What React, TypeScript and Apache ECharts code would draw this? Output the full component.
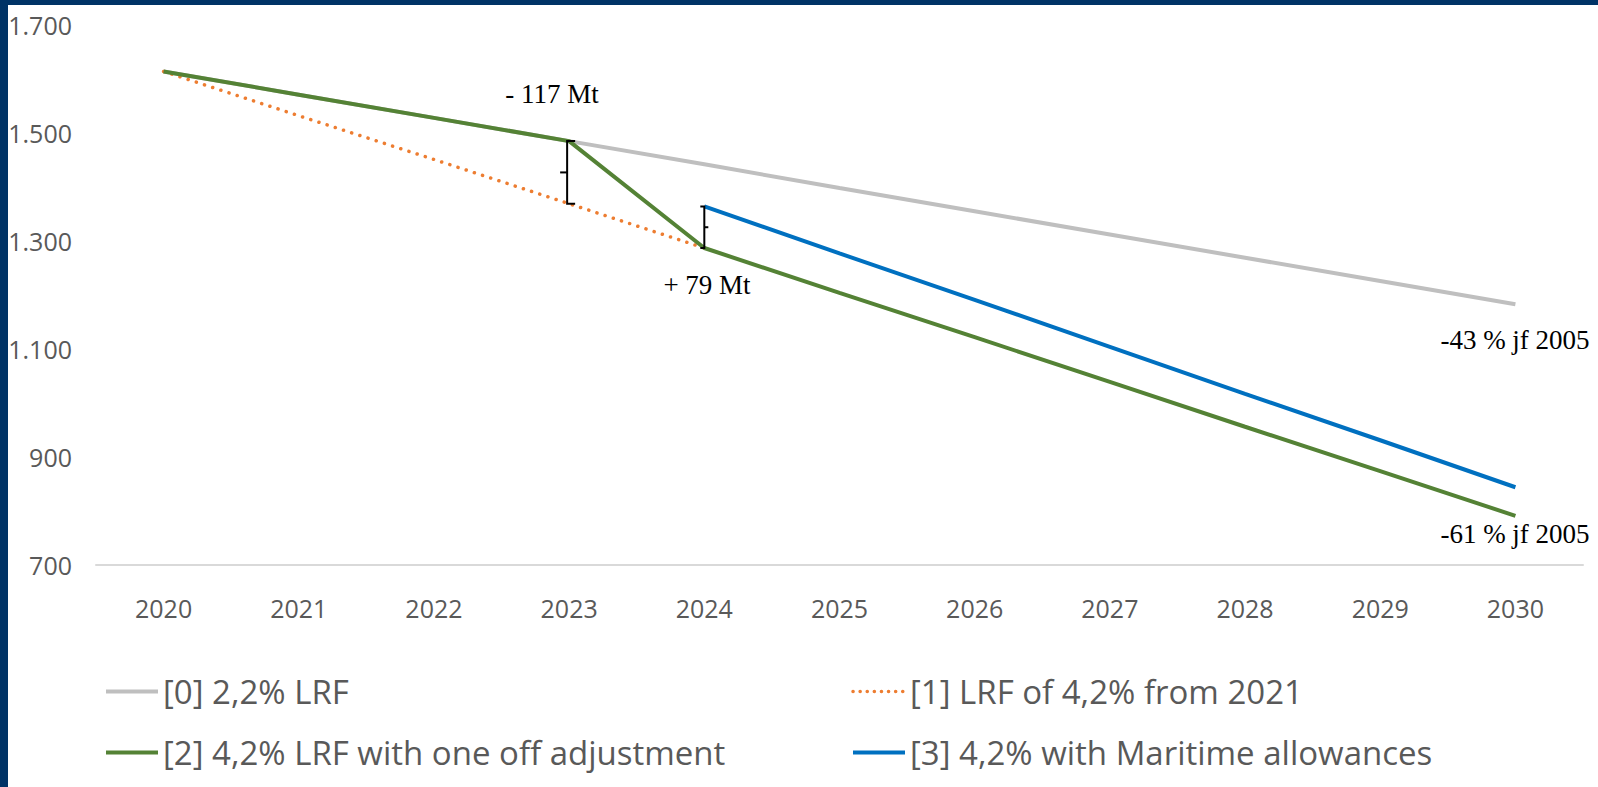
import React, { useEffect, useRef } from "react";
import * as echarts from "echarts";

const years = ["2020", "2021", "2022", "2023", "2024", "2025", "2026", "2027", "2028", "2029", "2030"];
const lrf22 = [1614, 1571, 1528, 1485, 1442, 1398, 1355, 1312, 1269, 1226, 1183];
const lrf42 = [1614, 1532, 1451, 1369, 1287, null, null, null, null, null, null];
const oneOff = [1614, 1571, 1528, 1485, 1287, 1204, 1122, 1039, 956, 874, 791];
const maritime = [null, null, null, null, 1364, 1277, 1191, 1104, 1017, 931, 844];
const seriesNames = [
  "[0] 2,2% LRF",
  "[1] LRF of 4,2% from 2021",
  "[2] 4,2% LRF with one off adjustment",
  "[3] 4,2% with Maritime allowances",
];
const annotations = ["- 117 Mt", "+ 79 Mt", "-43 % jf 2005", "-61 % jf 2005"];

const SANS = '"Open Sans", "Noto Sans", sans-serif';
const SERIF = '"Liberation Serif", "DejaVu Serif", serif';

function fmt(v: number) {
  if (v >= 1000) {
    const t = Math.floor(v / 1000);
    const r = String(v % 1000).padStart(3, "0");
    return t + "." + r;
  }
  return String(v);
}

export default function App() {
  const ref = useRef<HTMLDivElement>(null);
  useEffect(() => {
    if (!ref.current) return;
    const chart = echarts.init(ref.current, null, { renderer: "svg" });
    const legendText = { fontSize: 33, color: "#595959", fontFamily: SANS };
    const legendBase = {
      top: 670,
      orient: "vertical",
      itemGap: 28,
      itemWidth: 52,
      itemHeight: 14,
      selectedMode: false,
      itemStyle: { opacity: 0 },
      textStyle: legendText,
    };
    const solidLeg = (name: string) => ({ name, lineStyle: { width: 4, type: "solid" } });
    chart.setOption({
      animation: false,
      backgroundColor: "#ffffff",
      grid: { left: 96, right: 15, top: 25, bottom: 222, containLabel: false },
      xAxis: {
        type: "category",
        data: years,
        boundaryGap: true,
        axisLine: { show: true, lineStyle: { color: "#d9d9d9", width: 2 } },
        axisTick: { show: false },
        axisLabel: { fontSize: 25, color: "#595959", fontFamily: SANS, margin: 30 },
        splitLine: { show: false },
      },
      yAxis: {
        type: "value",
        min: 700,
        max: 1700,
        interval: 200,
        axisLine: { show: false },
        axisTick: { show: false },
        splitLine: { show: false },
        axisLabel: {
          fontSize: 25,
          color: "#595959",
          fontFamily: SANS,
          margin: 24,
          formatter: (v: number) => fmt(v),
        },
      },
      legend: [
        { ...legendBase, left: 99, data: [solidLeg(seriesNames[0]), solidLeg(seriesNames[2])] },
        {
          ...legendBase,
          left: 846,
          data: [
            { name: seriesNames[1], lineStyle: { width: 3.5, type: [0.1, 7], cap: "round" } },
            solidLeg(seriesNames[3]),
          ],
        },
      ],
      series: [
        {
          name: seriesNames[0],
          type: "line",
          data: lrf22,
          symbol: "none",
          color: "#bfbfbf",
          lineStyle: { color: "#bfbfbf", width: 4 },
        },
        {
          name: seriesNames[1],
          type: "line",
          data: lrf42,
          symbol: "none",
          color: "#ed7d31",
          lineStyle: { color: "#ed7d31", width: 3.5, type: [0.1, 8.5], cap: "round" },
        },
        {
          name: seriesNames[2],
          type: "line",
          data: oneOff,
          symbol: "none",
          color: "#548235",
          lineStyle: { color: "#548235", width: 4 },
        },
        {
          name: seriesNames[3],
          type: "line",
          data: maritime,
          symbol: "none",
          color: "#0070c0",
          lineStyle: { color: "#0070c0", width: 4 },
        },
      ],
    });

    const px = (i: number, v: number) =>
      chart.convertToPixel({ xAxisIndex: 0, yAxisIndex: 0 }, [years[i], v]) as number[];
    const a1 = px(3, lrf22[3]);
    const a2 = px(3, lrf42[3] as number);
    const b1 = px(4, maritime[4] as number);
    const b2 = px(4, oneOff[4]);
    const x1 = a1[0] - 2;
    const m1 = (a1[1] + a2[1]) / 2;
    const x2 = b1[0];
    const m2 = (b1[1] + b2[1]) / 2;
    const br = { stroke: "#000000", lineWidth: 2, fill: null };
    const txt = (t: string, x: number, y: number) => ({
      type: "text",
      x,
      y,
      z: 100,
      style: {
        text: t,
        fill: "#000000",
        font: "27px " + SERIF,
        align: "center",
        verticalAlign: "middle",
      },
    });
    chart.setOption({
      graphic: {
        elements: [
          { type: "rect", shape: { x: 0, y: 0, width: 8, height: 787 }, style: { fill: "#003366" }, z: 200 },
          { type: "rect", shape: { x: 0, y: 0, width: 1598, height: 5 }, style: { fill: "#003366" }, z: 200 },
          {
            type: "polyline",
            z: 100,
            shape: { points: [[x1 + 8, a1[1]], [x1, a1[1]], [x1, a2[1]], [x1 + 8, a2[1]]] },
            style: br,
          },
          { type: "line", z: 100, shape: { x1: x1, y1: m1, x2: x1 - 7, y2: m1 }, style: br },
          {
            type: "polyline",
            z: 100,
            shape: { points: [[x2 - 4, b1[1]], [x2, b1[1]], [x2, b2[1]], [x2 - 4, b2[1]]] },
            style: br,
          },
          { type: "line", z: 100, shape: { x1: x2, y1: m2, x2: x2 + 4, y2: m2 }, style: br },
          txt(annotations[0], 552, 94),
          txt(annotations[1], 707, 285),
          txt(annotations[2], 1515, 340),
          txt(annotations[3], 1515, 534),
        ],
      },
    });
    return () => chart.dispose();
  }, []);
  return (
    <div
      ref={ref}
      style={{ position: "absolute", left: 0, top: 0, width: 1598, height: 787 }}
    />
  );
}
